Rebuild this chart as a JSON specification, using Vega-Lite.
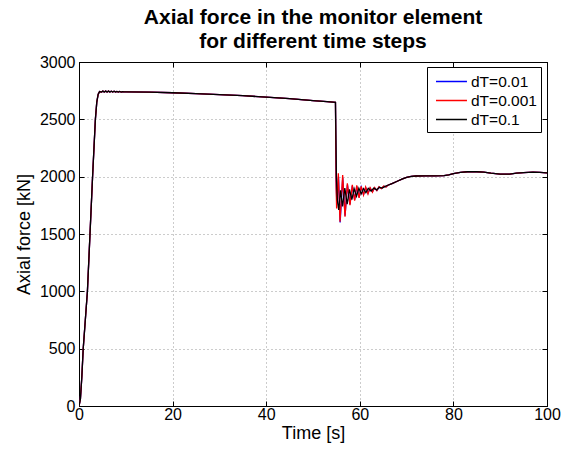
{
  "$schema": "https://vega.github.io/schema/vega-lite/v6.json",
  "autosize": {"type": "none"},
  "padding": {"left": 79, "top": 62, "right": 15, "bottom": 44},
  "width": 468,
  "height": 344,
  "background": "white",
  "title": {
    "text": ["Axial force in the monitor element", "for different time steps"],
    "fontSize": 21,
    "fontWeight": "bold",
    "font": "Liberation Sans",
    "color": "black",
    "anchor": "middle",
    "lineHeight": 24,
    "offset": 2
  },
  "config": {
    "font": "Liberation Sans",
    "view": {"stroke": "black", "strokeWidth": 1},
    "axis": {
      "labelFont": "Liberation Sans",
      "labelFontSize": 16,
      "labelColor": "black",
      "titleFont": "Liberation Sans",
      "titleFontSize": 18,
      "titleFontWeight": "normal",
      "titleColor": "black",
      "domainColor": "black",
      "tickColor": "black",
      "tickSize": -5,
      "gridColor": "#999999",
      "gridDash": [1, 3],
      "gridOpacity": 1
    }
  },
  "data": {
    "values": [
      {"series": "dT=0.01", "t": 0, "v": 0},
      {"series": "dT=0.01", "t": 0.3, "v": 60},
      {"series": "dT=0.01", "t": 0.6, "v": 250},
      {"series": "dT=0.01", "t": 0.9, "v": 500},
      {"series": "dT=0.01", "t": 1.35, "v": 750},
      {"series": "dT=0.01", "t": 1.8, "v": 1000},
      {"series": "dT=0.01", "t": 2.35, "v": 1500},
      {"series": "dT=0.01", "t": 2.9, "v": 2000},
      {"series": "dT=0.01", "t": 3.5, "v": 2500},
      {"series": "dT=0.01", "t": 3.8, "v": 2650},
      {"series": "dT=0.01", "t": 4.1, "v": 2720},
      {"series": "dT=0.01", "t": 4.4, "v": 2742},
      {"series": "dT=0.01", "t": 4.8, "v": 2738},
      {"series": "dT=0.01", "t": 5.1, "v": 2746},
      {"series": "dT=0.01", "t": 5.4, "v": 2738},
      {"series": "dT=0.01", "t": 5.7, "v": 2746},
      {"series": "dT=0.01", "t": 6.0, "v": 2738},
      {"series": "dT=0.01", "t": 6.3, "v": 2746},
      {"series": "dT=0.01", "t": 6.6, "v": 2738},
      {"series": "dT=0.01", "t": 6.9, "v": 2745},
      {"series": "dT=0.01", "t": 7.2, "v": 2738},
      {"series": "dT=0.01", "t": 7.5, "v": 2745},
      {"series": "dT=0.01", "t": 7.8, "v": 2738},
      {"series": "dT=0.01", "t": 8.1, "v": 2744},
      {"series": "dT=0.01", "t": 8.4, "v": 2738},
      {"series": "dT=0.01", "t": 8.7, "v": 2743},
      {"series": "dT=0.01", "t": 9.0, "v": 2738},
      {"series": "dT=0.01", "t": 9.3, "v": 2742},
      {"series": "dT=0.01", "t": 9.6, "v": 2739},
      {"series": "dT=0.01", "t": 10, "v": 2740},
      {"series": "dT=0.01", "t": 15, "v": 2737},
      {"series": "dT=0.01", "t": 20, "v": 2732},
      {"series": "dT=0.01", "t": 25, "v": 2725},
      {"series": "dT=0.01", "t": 30, "v": 2716},
      {"series": "dT=0.01", "t": 35, "v": 2706},
      {"series": "dT=0.01", "t": 40, "v": 2694},
      {"series": "dT=0.01", "t": 45, "v": 2680},
      {"series": "dT=0.01", "t": 50, "v": 2664},
      {"series": "dT=0.01", "t": 53, "v": 2654},
      {"series": "dT=0.01", "t": 54.8, "v": 2648},
      {"series": "dT=0.01", "t": 54.95, "v": 1950},
      {"series": "dT=0.01", "t": 55.1, "v": 1760},
      {"series": "dT=0.01", "t": 55.45, "v": 2000},
      {"series": "dT=0.01", "t": 55.8, "v": 1600},
      {"series": "dT=0.01", "t": 56.35, "v": 1990},
      {"series": "dT=0.01", "t": 56.85, "v": 1660},
      {"series": "dT=0.01", "t": 57.35, "v": 1930},
      {"series": "dT=0.01", "t": 57.9, "v": 1760},
      {"series": "dT=0.01", "t": 58.4, "v": 1920},
      {"series": "dT=0.01", "t": 58.9, "v": 1800},
      {"series": "dT=0.01", "t": 59.35, "v": 1915},
      {"series": "dT=0.01", "t": 59.85, "v": 1820},
      {"series": "dT=0.01", "t": 60.3, "v": 1910},
      {"series": "dT=0.01", "t": 60.8, "v": 1845},
      {"series": "dT=0.01", "t": 61.25, "v": 1905},
      {"series": "dT=0.01", "t": 61.75, "v": 1855},
      {"series": "dT=0.01", "t": 62.2, "v": 1900},
      {"series": "dT=0.01", "t": 62.7, "v": 1868},
      {"series": "dT=0.01", "t": 63.15, "v": 1902},
      {"series": "dT=0.01", "t": 63.65, "v": 1880},
      {"series": "dT=0.01", "t": 64.1, "v": 1908},
      {"series": "dT=0.01", "t": 64.6, "v": 1897},
      {"series": "dT=0.01", "t": 65.1, "v": 1915},
      {"series": "dT=0.01", "t": 65.6, "v": 1912},
      {"series": "dT=0.01", "t": 66, "v": 1925},
      {"series": "dT=0.01", "t": 67, "v": 1942},
      {"series": "dT=0.01", "t": 68, "v": 1960},
      {"series": "dT=0.01", "t": 69, "v": 1978},
      {"series": "dT=0.01", "t": 70, "v": 1993},
      {"series": "dT=0.01", "t": 71, "v": 2003},
      {"series": "dT=0.01", "t": 72, "v": 2006},
      {"series": "dT=0.01", "t": 74, "v": 2007},
      {"series": "dT=0.01", "t": 76, "v": 2007},
      {"series": "dT=0.01", "t": 78, "v": 2009},
      {"series": "dT=0.01", "t": 79, "v": 2016},
      {"series": "dT=0.01", "t": 80, "v": 2027},
      {"series": "dT=0.01", "t": 81.5, "v": 2037},
      {"series": "dT=0.01", "t": 83, "v": 2043},
      {"series": "dT=0.01", "t": 85, "v": 2043},
      {"series": "dT=0.01", "t": 86.5, "v": 2040},
      {"series": "dT=0.01", "t": 88, "v": 2031},
      {"series": "dT=0.01", "t": 90, "v": 2023},
      {"series": "dT=0.01", "t": 92, "v": 2022},
      {"series": "dT=0.01", "t": 93.5, "v": 2031},
      {"series": "dT=0.01", "t": 95, "v": 2036},
      {"series": "dT=0.01", "t": 97, "v": 2040},
      {"series": "dT=0.01", "t": 98.5, "v": 2038},
      {"series": "dT=0.01", "t": 100, "v": 2033},

      {"series": "dT=0.001", "t": 0, "v": 0},
      {"series": "dT=0.001", "t": 0.3, "v": 60},
      {"series": "dT=0.001", "t": 0.6, "v": 250},
      {"series": "dT=0.001", "t": 0.9, "v": 500},
      {"series": "dT=0.001", "t": 1.35, "v": 750},
      {"series": "dT=0.001", "t": 1.8, "v": 1000},
      {"series": "dT=0.001", "t": 2.35, "v": 1500},
      {"series": "dT=0.001", "t": 2.9, "v": 2000},
      {"series": "dT=0.001", "t": 3.5, "v": 2500},
      {"series": "dT=0.001", "t": 3.8, "v": 2650},
      {"series": "dT=0.001", "t": 4.1, "v": 2720},
      {"series": "dT=0.001", "t": 4.4, "v": 2742},
      {"series": "dT=0.001", "t": 4.8, "v": 2738},
      {"series": "dT=0.001", "t": 5.1, "v": 2746},
      {"series": "dT=0.001", "t": 5.4, "v": 2738},
      {"series": "dT=0.001", "t": 5.7, "v": 2746},
      {"series": "dT=0.001", "t": 6.0, "v": 2738},
      {"series": "dT=0.001", "t": 6.3, "v": 2746},
      {"series": "dT=0.001", "t": 6.6, "v": 2738},
      {"series": "dT=0.001", "t": 6.9, "v": 2745},
      {"series": "dT=0.001", "t": 7.2, "v": 2738},
      {"series": "dT=0.001", "t": 7.5, "v": 2745},
      {"series": "dT=0.001", "t": 7.8, "v": 2738},
      {"series": "dT=0.001", "t": 8.1, "v": 2744},
      {"series": "dT=0.001", "t": 8.4, "v": 2738},
      {"series": "dT=0.001", "t": 8.7, "v": 2743},
      {"series": "dT=0.001", "t": 9.0, "v": 2738},
      {"series": "dT=0.001", "t": 9.3, "v": 2742},
      {"series": "dT=0.001", "t": 9.6, "v": 2739},
      {"series": "dT=0.001", "t": 10, "v": 2740},
      {"series": "dT=0.001", "t": 15, "v": 2737},
      {"series": "dT=0.001", "t": 20, "v": 2732},
      {"series": "dT=0.001", "t": 25, "v": 2725},
      {"series": "dT=0.001", "t": 30, "v": 2716},
      {"series": "dT=0.001", "t": 35, "v": 2706},
      {"series": "dT=0.001", "t": 40, "v": 2694},
      {"series": "dT=0.001", "t": 45, "v": 2680},
      {"series": "dT=0.001", "t": 50, "v": 2664},
      {"series": "dT=0.001", "t": 53, "v": 2654},
      {"series": "dT=0.001", "t": 54.8, "v": 2648},
      {"series": "dT=0.001", "t": 54.95, "v": 1900},
      {"series": "dT=0.001", "t": 55.05, "v": 1723},
      {"series": "dT=0.001", "t": 55.41, "v": 2029},
      {"series": "dT=0.001", "t": 55.77, "v": 1607},
      {"series": "dT=0.001", "t": 56.34, "v": 2015},
      {"series": "dT=0.001", "t": 56.84, "v": 1651},
      {"series": "dT=0.001", "t": 57.34, "v": 1942},
      {"series": "dT=0.001", "t": 57.9, "v": 1752},
      {"series": "dT=0.001", "t": 58.4, "v": 1928},
      {"series": "dT=0.001", "t": 58.9, "v": 1790},
      {"series": "dT=0.001", "t": 59.35, "v": 1925},
      {"series": "dT=0.001", "t": 59.85, "v": 1815},
      {"series": "dT=0.001", "t": 60.3, "v": 1915},
      {"series": "dT=0.001", "t": 60.8, "v": 1840},
      {"series": "dT=0.001", "t": 61.25, "v": 1910},
      {"series": "dT=0.001", "t": 61.75, "v": 1850},
      {"series": "dT=0.001", "t": 62.2, "v": 1905},
      {"series": "dT=0.001", "t": 62.7, "v": 1865},
      {"series": "dT=0.001", "t": 63.15, "v": 1905},
      {"series": "dT=0.001", "t": 63.65, "v": 1878},
      {"series": "dT=0.001", "t": 64.1, "v": 1912},
      {"series": "dT=0.001", "t": 64.6, "v": 1895},
      {"series": "dT=0.001", "t": 65.1, "v": 1918},
      {"series": "dT=0.001", "t": 65.6, "v": 1910},
      {"series": "dT=0.001", "t": 66, "v": 1925},
      {"series": "dT=0.001", "t": 67, "v": 1942},
      {"series": "dT=0.001", "t": 68, "v": 1960},
      {"series": "dT=0.001", "t": 69, "v": 1978},
      {"series": "dT=0.001", "t": 70, "v": 1993},
      {"series": "dT=0.001", "t": 71, "v": 2003},
      {"series": "dT=0.001", "t": 72, "v": 2006},
      {"series": "dT=0.001", "t": 74, "v": 2007},
      {"series": "dT=0.001", "t": 76, "v": 2007},
      {"series": "dT=0.001", "t": 78, "v": 2009},
      {"series": "dT=0.001", "t": 79, "v": 2016},
      {"series": "dT=0.001", "t": 80, "v": 2027},
      {"series": "dT=0.001", "t": 81.5, "v": 2037},
      {"series": "dT=0.001", "t": 83, "v": 2043},
      {"series": "dT=0.001", "t": 85, "v": 2043},
      {"series": "dT=0.001", "t": 86.5, "v": 2040},
      {"series": "dT=0.001", "t": 88, "v": 2031},
      {"series": "dT=0.001", "t": 90, "v": 2023},
      {"series": "dT=0.001", "t": 92, "v": 2022},
      {"series": "dT=0.001", "t": 93.5, "v": 2031},
      {"series": "dT=0.001", "t": 95, "v": 2036},
      {"series": "dT=0.001", "t": 97, "v": 2040},
      {"series": "dT=0.001", "t": 98.5, "v": 2038},
      {"series": "dT=0.001", "t": 100, "v": 2033},

      {"series": "dT=0.1", "t": 0, "v": 0},
      {"series": "dT=0.1", "t": 0.3, "v": 60},
      {"series": "dT=0.1", "t": 0.6, "v": 250},
      {"series": "dT=0.1", "t": 0.9, "v": 500},
      {"series": "dT=0.1", "t": 1.35, "v": 750},
      {"series": "dT=0.1", "t": 1.8, "v": 1000},
      {"series": "dT=0.1", "t": 2.35, "v": 1500},
      {"series": "dT=0.1", "t": 2.9, "v": 2000},
      {"series": "dT=0.1", "t": 3.5, "v": 2500},
      {"series": "dT=0.1", "t": 3.8, "v": 2650},
      {"series": "dT=0.1", "t": 4.1, "v": 2720},
      {"series": "dT=0.1", "t": 4.4, "v": 2742},
      {"series": "dT=0.1", "t": 4.8, "v": 2738},
      {"series": "dT=0.1", "t": 5.1, "v": 2746},
      {"series": "dT=0.1", "t": 5.4, "v": 2738},
      {"series": "dT=0.1", "t": 5.7, "v": 2746},
      {"series": "dT=0.1", "t": 6.0, "v": 2738},
      {"series": "dT=0.1", "t": 6.3, "v": 2746},
      {"series": "dT=0.1", "t": 6.6, "v": 2738},
      {"series": "dT=0.1", "t": 6.9, "v": 2745},
      {"series": "dT=0.1", "t": 7.2, "v": 2738},
      {"series": "dT=0.1", "t": 7.5, "v": 2745},
      {"series": "dT=0.1", "t": 7.8, "v": 2738},
      {"series": "dT=0.1", "t": 8.1, "v": 2744},
      {"series": "dT=0.1", "t": 8.4, "v": 2738},
      {"series": "dT=0.1", "t": 8.7, "v": 2743},
      {"series": "dT=0.1", "t": 9.0, "v": 2738},
      {"series": "dT=0.1", "t": 9.3, "v": 2742},
      {"series": "dT=0.1", "t": 9.6, "v": 2739},
      {"series": "dT=0.1", "t": 10, "v": 2740},
      {"series": "dT=0.1", "t": 15, "v": 2737},
      {"series": "dT=0.1", "t": 20, "v": 2732},
      {"series": "dT=0.1", "t": 25, "v": 2725},
      {"series": "dT=0.1", "t": 30, "v": 2716},
      {"series": "dT=0.1", "t": 35, "v": 2706},
      {"series": "dT=0.1", "t": 40, "v": 2694},
      {"series": "dT=0.1", "t": 45, "v": 2680},
      {"series": "dT=0.1", "t": 50, "v": 2664},
      {"series": "dT=0.1", "t": 53, "v": 2654},
      {"series": "dT=0.1", "t": 54.8, "v": 2648},
      {"series": "dT=0.1", "t": 55.0, "v": 2000},
      {"series": "dT=0.1", "t": 55.2, "v": 1800},
      {"series": "dT=0.1", "t": 55.5, "v": 1709},
      {"series": "dT=0.1", "t": 55.9, "v": 1880},
      {"series": "dT=0.1", "t": 56.3, "v": 1740},
      {"series": "dT=0.1", "t": 56.8, "v": 1900},
      {"series": "dT=0.1", "t": 57.3, "v": 1760},
      {"series": "dT=0.1", "t": 57.8, "v": 1890},
      {"series": "dT=0.1", "t": 58.3, "v": 1800},
      {"series": "dT=0.1", "t": 58.8, "v": 1895},
      {"series": "dT=0.1", "t": 59.3, "v": 1830},
      {"series": "dT=0.1", "t": 59.8, "v": 1900},
      {"series": "dT=0.1", "t": 60.3, "v": 1850},
      {"series": "dT=0.1", "t": 60.8, "v": 1895},
      {"series": "dT=0.1", "t": 61.3, "v": 1860},
      {"series": "dT=0.1", "t": 61.8, "v": 1898},
      {"series": "dT=0.1", "t": 62.4, "v": 1875},
      {"series": "dT=0.1", "t": 63.0, "v": 1900},
      {"series": "dT=0.1", "t": 63.6, "v": 1885},
      {"series": "dT=0.1", "t": 64.2, "v": 1908},
      {"series": "dT=0.1", "t": 64.8, "v": 1900},
      {"series": "dT=0.1", "t": 65.4, "v": 1915},
      {"series": "dT=0.1", "t": 66, "v": 1925},
      {"series": "dT=0.1", "t": 67, "v": 1942},
      {"series": "dT=0.1", "t": 68, "v": 1960},
      {"series": "dT=0.1", "t": 69, "v": 1978},
      {"series": "dT=0.1", "t": 70, "v": 1993},
      {"series": "dT=0.1", "t": 71, "v": 2003},
      {"series": "dT=0.1", "t": 72, "v": 2006},
      {"series": "dT=0.1", "t": 74, "v": 2007},
      {"series": "dT=0.1", "t": 76, "v": 2007},
      {"series": "dT=0.1", "t": 78, "v": 2009},
      {"series": "dT=0.1", "t": 79, "v": 2016},
      {"series": "dT=0.1", "t": 80, "v": 2027},
      {"series": "dT=0.1", "t": 81.5, "v": 2037},
      {"series": "dT=0.1", "t": 83, "v": 2043},
      {"series": "dT=0.1", "t": 85, "v": 2043},
      {"series": "dT=0.1", "t": 86.5, "v": 2040},
      {"series": "dT=0.1", "t": 88, "v": 2031},
      {"series": "dT=0.1", "t": 90, "v": 2023},
      {"series": "dT=0.1", "t": 92, "v": 2022},
      {"series": "dT=0.1", "t": 93.5, "v": 2031},
      {"series": "dT=0.1", "t": 95, "v": 2036},
      {"series": "dT=0.1", "t": 97, "v": 2040},
      {"series": "dT=0.1", "t": 98.5, "v": 2038},
      {"series": "dT=0.1", "t": 100, "v": 2033}
    ]
  },
  "layer": [
    {
      "mark": {"type": "line", "strokeWidth": 1.3, "clip": true},
      "encoding": {
        "x": {
          "field": "t", "type": "quantitative",
          "scale": {"domain": [0, 100], "nice": false, "zero": false},
          "axis": {"title": "Time [s]", "values": [0, 20, 40, 60, 80, 100], "labelPadding": 5, "titlePadding": 2, "grid": true, "labelFlush": false}
        },
        "y": {
          "field": "v", "type": "quantitative",
          "scale": {"domain": [0, 3000], "nice": false},
          "axis": {"title": "Axial force [kN]", "format": "d", "values": [0, 500, 1000, 1500, 2000, 2500, 3000], "labelPadding": 9, "titlePadding": 6, "grid": true}
        },
        "color": {
          "field": "series", "type": "nominal",
          "scale": {"domain": ["dT=0.01", "dT=0.001", "dT=0.1"], "range": ["#0000ff", "#ff0000", "#000000"]},
          "legend": {
            "title": null,
            "orient": "none",
            "legendX": 348,
            "legendY": 5,
            "strokeColor": "black",
            "fillColor": "white",
            "padding": 4,
            "symbolType": "M-0.58,0H2.68",
            "symbolSize": 361,
            "symbolStrokeWidth": 1.5,
            "symbolFillColor": "transparent",
            "labelFontSize": 15.5,
            "labelFont": "Liberation Sans",
            "labelColor": "black",
            "labelOffset": 19,
            "rowPadding": 0
          }
        },
        "order": {"field": "t", "type": "quantitative"}
      }
    },
    {
      "mark": {"type": "line", "opacity": 0},
      "encoding": {
        "x": {
          "field": "t", "type": "quantitative",
          "axis": {"orient": "top", "title": null, "labels": false, "grid": false, "values": [0, 20, 40, 60, 80, 100]}
        },
        "y": {
          "field": "v", "type": "quantitative",
          "axis": {"orient": "right", "title": null, "labels": false, "grid": false, "values": [0, 500, 1000, 1500, 2000, 2500, 3000]}
        }
      }
    }
  ],
  "resolve": {"axis": {"x": "independent", "y": "independent"}}
}
